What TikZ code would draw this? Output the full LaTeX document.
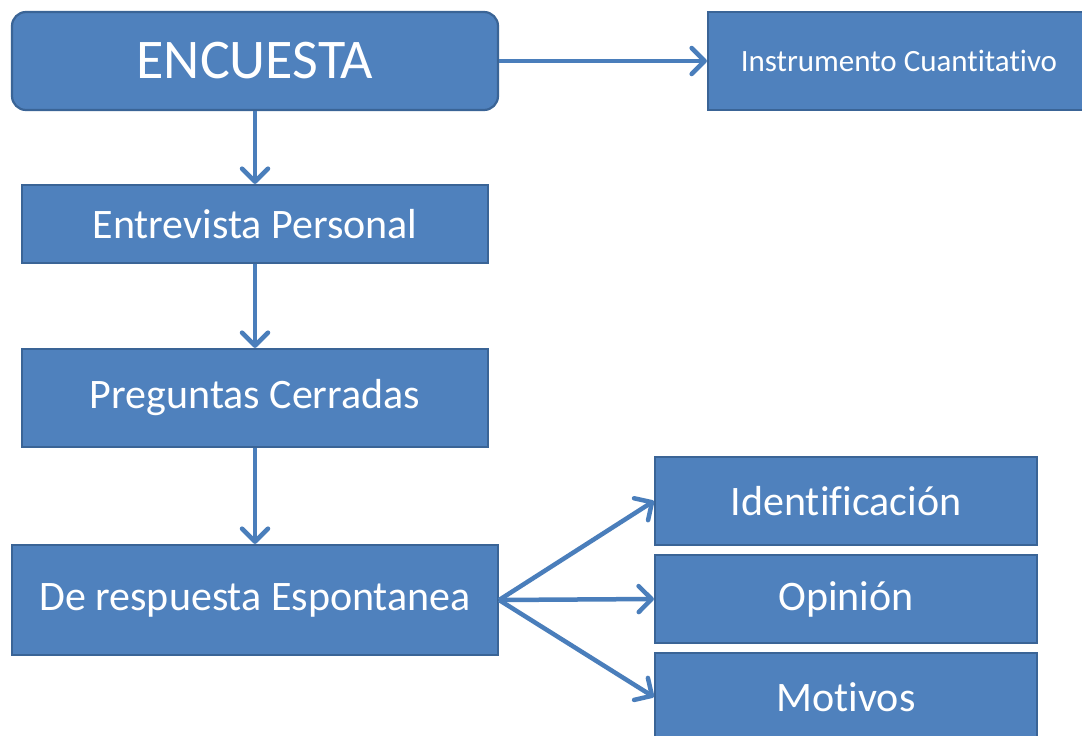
\documentclass[tikz,border=0pt]{standalone}
\usepackage{fontspec}
\setmainfont{Carlito}[Ligatures={NoCommon}]
\usetikzlibrary{arrows.meta}
\definecolor{boxfill}{HTML}{4F81BD}
\definecolor{boxdraw}{HTML}{3A6496}
\definecolor{arrowcol}{HTML}{4A7EBB}
\begin{document}
\begin{tikzpicture}[x=1pt,y=-1pt,
  box/.style={draw=boxdraw, line width=2.2pt, fill=boxfill, text=white, inner sep=0pt, anchor=center},
  txtbig/.style={font=\fontsize{42}{50}\selectfont},
  conn/.style={draw=arrowcol, line width=4.5pt, -{Straight Barb[length=13pt,width=26pt,round]}}
]
\useasboundingbox (0,0) rectangle (1082,736);
\fill[white] (0,0) rectangle (1082,736);
\clip (0,0) rectangle (1082,736);

\node[box, rounded corners=14pt, minimum width=486pt, minimum height=98pt, font=\fontsize{56}{66}\selectfont] (enc) at (255,61) {ENCUESTA};
\node[box, minimum width=382pt, minimum height=98pt, font=\fontsize{31}{37}\selectfont] (inst) at (899,61) {Instrumento Cuantitativo};
\node[box, txtbig, minimum width=466pt, minimum height=78pt] (ent) at (255,224) {Entrevista Personal};
\node[box, txtbig, minimum width=466pt, minimum height=98pt] (pre) at (255,398) {Preguntas Cerradas};
\node[box, txtbig, minimum width=486pt, minimum height=110pt] (esp) at (255,600) {De respuesta Espontanea};
\node[box, txtbig, minimum width=382pt, minimum height=88pt] (ide) at (846,501) {Identificación};
\node[box, txtbig, minimum width=382pt, minimum height=88pt] (opi) at (846,599) {Opinión};
\node[box, txtbig, minimum width=382pt, minimum height=88pt] (mot) at (846,697) {Motivos};

\draw[conn] (enc.east) -- (inst.west);
\draw[conn] (enc.south) -- (ent.north);
\draw[conn] (ent.south) -- (pre.north);
\draw[conn] (pre.south) -- (esp.north);
\draw[conn] (esp.east) -- (ide.west);
\draw[conn] (esp.east) -- (opi.west);
\draw[conn] (esp.east) -- (mot.west);
\end{tikzpicture}
\end{document}
